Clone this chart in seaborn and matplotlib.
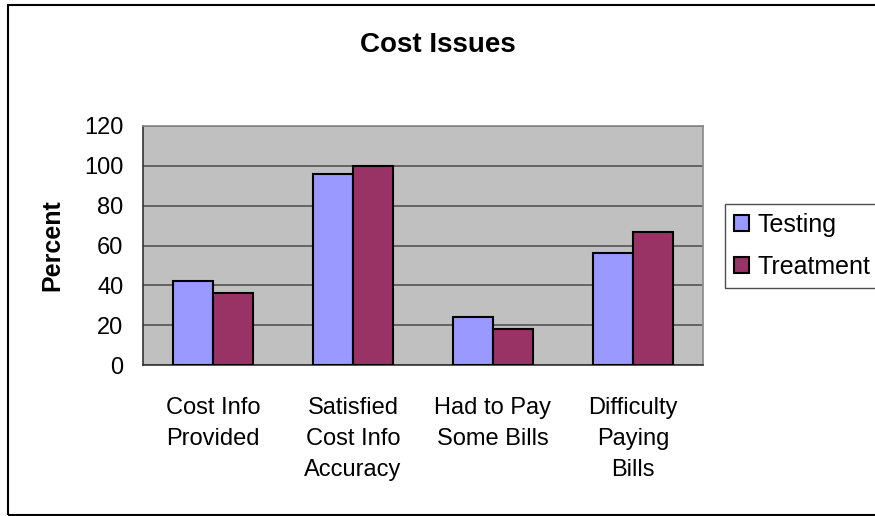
import pandas as pd
import matplotlib.pyplot as plt
import seaborn as sns

categories = ["Cost Info\nProvided", "Satisfied\nCost Info\nAccuracy",
              "Had to Pay\nSome Bills", "Difficulty\nPaying\nBills"]
testing = [42, 96, 24, 56]
treatment = [36, 100, 18, 67]

df = pd.DataFrame({
    "category": categories * 2,
    "percent": testing + treatment,
    "group": ["Testing"] * 4 + ["Treatment"] * 4,
})

sns.set_style("white")
plt.rcParams["font.family"] = ["Liberation Sans", "DejaVu Sans"]
plt.rcParams["text.color"] = "black"
plt.rcParams["axes.labelcolor"] = "black"
plt.rcParams["xtick.color"] = "black"
plt.rcParams["ytick.color"] = "black"

fig = plt.figure(figsize=(8.75, 5.16), dpi=100)
ax = fig.add_axes([143 / 875, 1 - 365 / 516, 560 / 875, 239 / 516])
ax.set_facecolor("#C0C0C0")

sns.barplot(data=df, x="category", y="percent", hue="group",
            palette=["#9999FF", "#993366"], saturation=1, width=0.57,
            edgecolor="black", linewidth=1.5, ax=ax, zorder=3)

ax.set_ylim(0, 120)
ax.set_xlim(-0.5, 3.5)
ax.set_yticks(range(0, 121, 20))
ax.yaxis.grid(True, color="#555555", linewidth=1.2, zorder=0)
ax.set_axisbelow(True)

# ticks sit between categories, labels at the centres
ax.set_xticks([-0.5, 0.5, 1.5, 2.5, 3.5])
ax.set_xticklabels([])
ax.set_xticks(range(4), minor=True)
ax.set_xticklabels(categories, minor=True, fontsize=17, linespacing=1.52)
ax.tick_params(axis="x", which="major", direction="out", length=6, width=1, color="#333333")
ax.tick_params(axis="x", which="minor", length=0, pad=23)
ax.tick_params(axis="y", direction="out", length=6, width=1, color="#333333", labelsize=17, pad=8)

ax.spines["left"].set_color("#333333")
ax.spines["bottom"].set_color("#333333")
ax.spines["top"].set_color("#888888")
ax.spines["right"].set_color("#888888")
for s in ax.spines.values():
    s.set_linewidth(1.2)

ax.set_xlabel("")
ax.set_ylabel("Percent", fontsize=18, fontweight="bold", labelpad=14)
fig.text(0.5, 1 - 45 / 516, "Cost Issues", ha="center", va="center",
         fontsize=20, fontweight="bold")

leg = ax.legend(loc="upper left", bbox_to_anchor=(725 / 875, 1 - 204 / 516),
                bbox_transform=fig.transFigure, fontsize=18, frameon=True,
                fancybox=False, edgecolor="#222222", handlelength=0.6,
                handleheight=0.6, handletextpad=0.36, borderpad=0.35,
                labelspacing=0.73, borderaxespad=0)
leg.get_frame().set_linewidth(1)

fig.patches.append(plt.Rectangle((8 / 875, 1.5 / 516), 1.0, 1 - 6.5 / 516, transform=fig.transFigure,
                                 fill=False, edgecolor="black", linewidth=1.5))

fig.savefig("out.png", dpi=100)
